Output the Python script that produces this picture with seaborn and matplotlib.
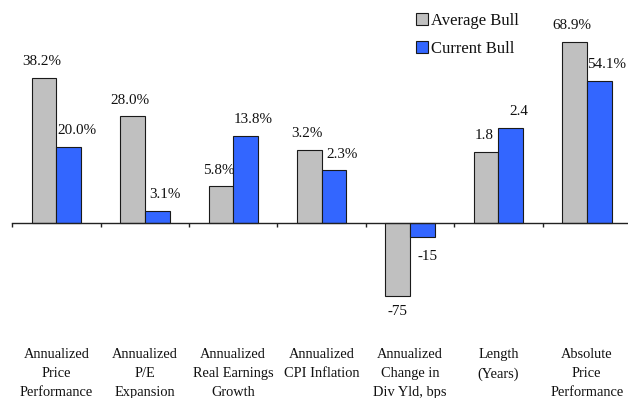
import matplotlib
matplotlib.use("Agg")
import matplotlib.pyplot as plt
import seaborn as sns
import pandas as pd

# Bull-market statistics: average bull vs. current bull
categories = [
    "Annualized\nPrice\nPerformance",
    "Annualized\nP/E\nExpansion",
    "Annualized\nReal Earnings\nGrowth",
    "Annualized\nCPI Inflation",
    "Annualized\nChange in\nDiv Yld, bps",
    "Length\n(Years)",
    "Absolute\nPrice\nPerformance",
]
series = ["Average Bull", "Current Bull"]
average_bull = [38.2, 28.0, 5.8, 3.2, -75, 1.8, 68.9]
current_bull = [20.0, 3.1, 13.8, 2.3, -15, 2.4, 54.1]
label_formats = ["{:.1f}%", "{:.1f}%", "{:.1f}%", "{:.1f}%", "{:.0f}", "{:.1f}", "{:.1f}%"]
# Each measure has its own units, so each group is drawn on its own scale
group_scale = [1.0, 1.0, 1.65, 6.0, 0.256, 10.4, 0.69]

rows = []
for cat, scale, a, c in zip(categories, group_scale, average_bull, current_bull):
    rows.append({"category": cat, "series": series[0], "value": a, "height": a * scale})
    rows.append({"category": cat, "series": series[1], "value": c, "height": c * scale})
df = pd.DataFrame(rows)

sns.set_style("white")
plt.rcParams["font.family"] = ["Liberation Serif", "DejaVu Serif"]

W, H = 628, 398
fig = plt.figure(figsize=(W / 100, H / 100), dpi=100)
left_px, right_px = 12.3, 631.0
ax = fig.add_axes([left_px / W, 0.0, (right_px - left_px) / W, 1.0])

gray = "#C0C0C0"
blue = "#3366FF"
edge = "#1a1a1a"

sns.barplot(data=df, x="category", y="height", hue="series", hue_order=series,
            palette=[gray, blue], width=0.56, saturation=1, errorbar=None,
            edgecolor=edge, linewidth=0.8, ax=ax)

px_per_unit = 3.8
baseline_px = 222.7
ax.set_ylim(-(H - baseline_px) / px_per_unit, baseline_px / px_per_unit)
ax.set_xlim(-0.5, len(categories) - 0.5)

# Value labels
nudge_x = {0: -1.5, 1: 5.5}
for s_idx, (container, vals) in enumerate(zip(ax.containers, [average_bull, current_bull])):
    for bar, v, fmt in zip(container, vals, label_formats):
        cx = bar.get_x() + bar.get_width() / 2
        h = bar.get_height()
        if v >= 0:
            ax.annotate(fmt.format(v), xy=(cx, h), xytext=(nudge_x[s_idx], 7),
                        textcoords="offset points", ha="center", va="bottom",
                        fontsize=10.9, color="#111111")
        else:
            dy = -7 if s_idx == 0 else -9.5
            dx = 0 if s_idx == 0 else 4
            ax.annotate(fmt.format(v), xy=(cx, h), xytext=(dx, dy),
                        textcoords="offset points", ha="center", va="top",
                        fontsize=10.9, color="#111111")

# Axis: baseline at zero, tick marks between groups, labels well below
for side in ["left", "top", "right"]:
    ax.spines[side].set_visible(False)
ax.spines["bottom"].set_position(("data", 0))
ax.spines["bottom"].set_color("#222222")
ax.spines["bottom"].set_linewidth(1.0)
ax.set_yticks([])
boundaries = [i - 0.5 for i in range(len(categories) + 1)]
ax.set_xticks(boundaries, labels=[""] * len(boundaries))
ax.set_xticks(range(len(categories)), labels=categories, minor=True)
ax.tick_params(axis="x", which="major", direction="out", length=3.2, width=1.0,
               color="#222222", bottom=True)
ax.tick_params(axis="x", which="minor", length=0, pad=90, labelsize=10.4,
               labelcolor="#111111")
for lbl in ax.get_xticklabels(minor=True):
    lbl.set_multialignment("center")
    lbl.set_linespacing(1.62)
ax.set_xlabel("")
ax.set_ylabel("")

# Legend
ax.legend_.remove()
handles = [
    plt.Rectangle((0, 0), 1, 1, facecolor=gray, edgecolor=edge, linewidth=0.8),
    plt.Rectangle((0, 0), 1, 1, facecolor=blue, edgecolor=edge, linewidth=0.8),
]
leg = fig.legend(handles=handles, labels=series, loc="upper left",
                 bbox_to_anchor=(416 / W, 1 - 13 / H),
                 frameon=False, fontsize=12, handlelength=0.72, handleheight=0.72,
                 handletextpad=0.2, labelspacing=0.72, borderpad=0, borderaxespad=0)
for t in leg.get_texts():
    t.set_color("#111111")

fig.savefig("out.png", dpi=100)
